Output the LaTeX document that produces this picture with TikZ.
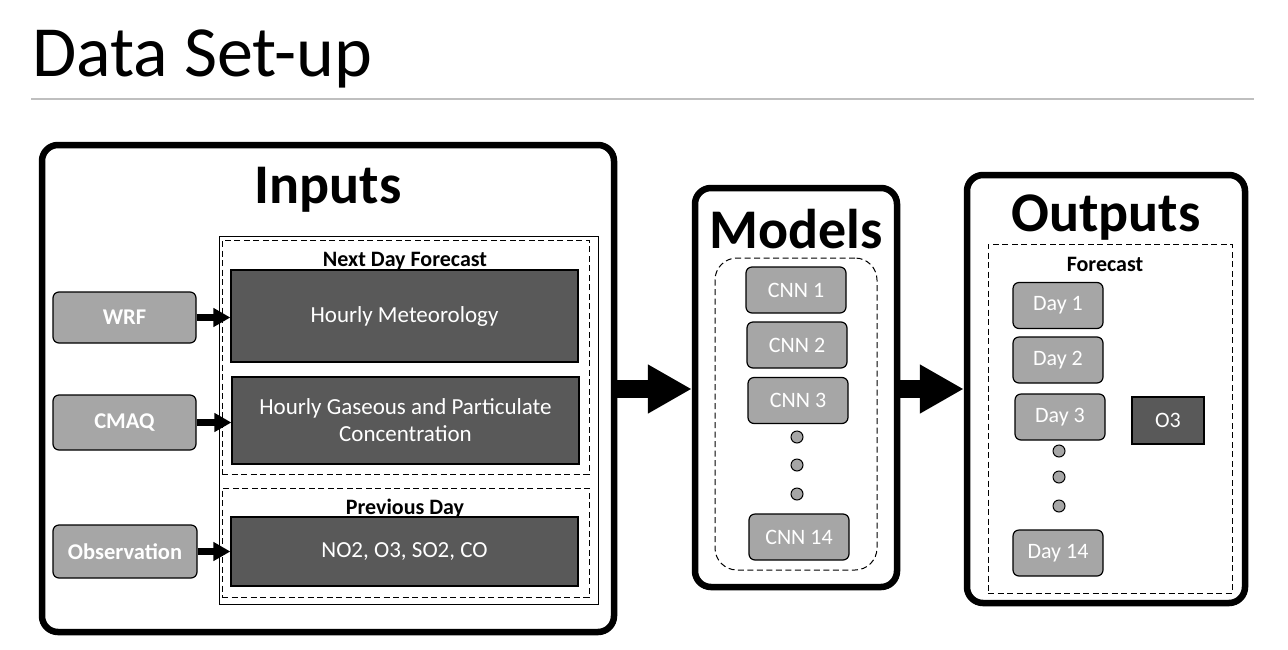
\documentclass[tikz,border=0pt]{standalone}
\usepackage{fontspec}
\setmainfont{Carlito}
\usetikzlibrary{arrows.meta}
\definecolor{darkbox}{HTML}{595959}
\definecolor{lightbox}{HTML}{A6A6A6}
\definecolor{rulegray}{HTML}{BFBFBF}
\begin{document}
\begin{tikzpicture}[x=1pt,y=-1pt,
  panel/.style={draw=black,line width=6.5pt,rounded corners=16pt,fill=white},
  darkrect/.style={draw=black,line width=1.2pt,fill=darkbox,text=white,font=\fontsize{23}{27}\selectfont,align=center,inner sep=0pt},
  srcbox/.style={draw=black,line width=1.2pt,fill=lightbox,rounded corners=6pt,text=white,font=\bfseries\fontsize{22.5}{26}\selectfont,inner sep=0pt},
  cnnbox/.style={draw=black,line width=1.2pt,fill=lightbox,rounded corners=6pt,text=white,font=\fontsize{22}{26}\selectfont,inner sep=0pt,minimum width=100pt,minimum height=46pt},
  dot/.style={circle,draw=black,line width=1pt,fill=lightbox,minimum size=12pt,inner sep=0pt},
  dashbox/.style={draw=black,line width=1pt,dash pattern=on 6pt off 3.5pt},
  smallarrow/.style={line width=7pt,-{Triangle[length=17pt,width=18pt]}},
  bigarrow/.style={line width=18pt,-{Triangle[length=44pt,width=46pt]}},
  paneltitle/.style={font=\bfseries\fontsize{56}{60}\selectfont,inner sep=0pt},
  subtitle/.style={font=\bfseries\fontsize{22}{26}\selectfont,inner sep=0pt}
]
\useasboundingbox (0,0) rectangle (1288,649);
\fill[white] (0,0) rectangle (1288,649);
% title
\node[anchor=base west,inner sep=0pt,font=\fontsize{72}{76}\selectfont] (title) at (32,76) {Data Set-up};
\coordinate (ruleL) at (31,99);
\coordinate (ruleR) at (1254,99);
\draw[rulegray,line width=1.2pt] (ruleL) -- (ruleR);

% panels
\node[panel,minimum width=572pt,minimum height=487pt,inner sep=0pt] (inputs) at (328,388.5) {};
\node[panel,minimum width=202pt,minimum height=399pt,inner sep=0pt] (models) at (796,387.5) {};
\node[panel,minimum width=278pt,minimum height=428pt,inner sep=0pt] (outputs) at (1106,389) {};

\node[paneltitle,anchor=base] (inputsT) at (328,203) {Inputs};
\node[paneltitle,anchor=base] (modelsT) at (796,248) {Models};
\node[paneltitle,anchor=base] (outputsT) at (1106,231) {Outputs};

% inputs inner frames
\node[draw=black,line width=1pt,minimum width=379pt,minimum height=368pt,inner sep=0pt] (frame) at (408.5,420) {};
\node[dashbox,minimum width=367pt,minimum height=234pt,inner sep=0pt] (nextday) at (405.5,357) {};
\node[dashbox,minimum width=367pt,minimum height=109pt,inner sep=0pt] (prevday) at (405.5,542.5) {};
\node[subtitle,anchor=base] (nextT) at (405,266) {Next Day Forecast};
\node[subtitle,anchor=base] (prevT) at (405,514) {Previous Day};

\node[darkrect,minimum width=347pt,minimum height=92pt] (met) at (404.5,316) {Hourly Meteorology};
\node[darkrect,minimum width=347pt,minimum height=87pt] (gas) at (405.5,420.5) {Hourly Gaseous and Particulate\\Concentration};
\node[darkrect,minimum width=347pt,minimum height=69pt] (obsdata) at (404.5,551.5) {NO2, O3, SO2, CO};

\node[srcbox,minimum width=143pt,minimum height=51pt] (wrf) at (124.5,317.5) {WRF};
\node[srcbox,minimum width=143pt,minimum height=55pt] (cmaq) at (124.5,422.5) {CMAQ};
\node[srcbox,minimum width=144pt,minimum height=53pt] (obs) at (125,551.5) {Observation};

\draw[smallarrow] (wrf.east) -- (met.west|-wrf.east);
\draw[smallarrow] (cmaq.east) -- (gas.west|-cmaq.east);
\draw[smallarrow] (obs.east) -- (obsdata.west|-obs.east);

% models
\node[dashbox,rounded corners=22pt,minimum width=162pt,minimum height=312pt,inner sep=0pt] (cnnframe) at (796,414) {};
\node[cnnbox] (cnn1) at (796,290) {CNN 1};
\node[cnnbox] (cnn2) at (797,345) {CNN 2};
\node[cnnbox] (cnn3) at (798,400.5) {CNN 3};
\node[dot] (d1) at (797,437) {};
\node[dot] (d2) at (797,465) {};
\node[dot] (d3) at (797,494) {};
\node[cnnbox] (cnn14) at (799,537) {CNN 14};

% outputs
\node[dashbox,minimum width=244pt,minimum height=349pt,inner sep=0pt] (fcframe) at (1110,418.5) {};
\node[subtitle,anchor=base] (fcT) at (1105,271) {Forecast};
\node[cnnbox,minimum width=90pt] (day1) at (1058,305.5) {Day 1};
\node[cnnbox,minimum width=90pt] (day2) at (1058,360) {Day 2};
\node[cnnbox,minimum width=90pt] (day3) at (1060,417) {Day 3};
\node[dot] (e1) at (1059,451) {};
\node[dot] (e2) at (1059,477) {};
\node[dot] (e3) at (1059,506) {};
\node[cnnbox,minimum width=90pt] (day14) at (1058,553) {Day 14};
\node[darkrect,font=\fontsize{22}{26}\selectfont,minimum width=72pt,minimum height=47pt] (o3) at (1168,420.5) {O3};

% big arrows
\draw[bigarrow] (inputs.east|-0,389) -- (models.west|-0,389);
\draw[bigarrow] (models.east|-0,389) -- (outputs.west|-0,389);
\end{tikzpicture}
\end{document}
